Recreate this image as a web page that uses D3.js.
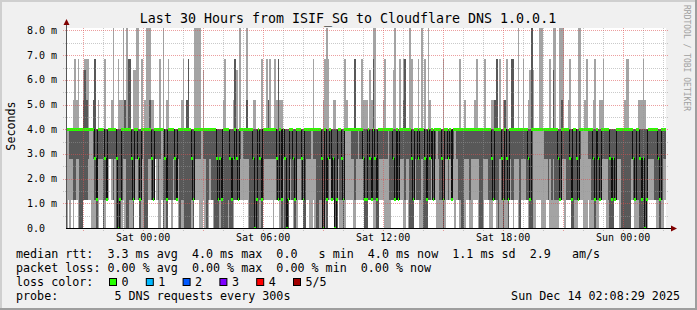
<!DOCTYPE html>
<meta charset="utf-8">
<style>
body { margin: 0; background: #f0f0f0; }
svg { display: block; }
text { font-family: "DejaVu Sans Mono", monospace; fill: #000; }
.title { font-size: 13.3px; }
.axis-label { font-size: 10px; }
.legend { font-size: 11.7px; white-space: pre; }
.credit { font-size: 8px; fill: #a0a0a0; }
</style>
<svg width="697" height="310"></svg>
<script src="https://d3js.org/d3.v7.min.js"></script>
<script>

// ping value levels seen in the graph (ms), keyed by the digit used below
var levels = { "0": 0.0, "1": 1.14, "2": 2.8, "3": 4.0, "4": 5.18, "5": 6.4, "6": 6.83, "9": 9.5 };

// one code per 300s step: sorted pings p1 p2 median p4 p5 (5 pings per step)
var pingBlocks = [
  "03333 13333 02333 12333 01334 11336 12334 02336 00333 00333 11345 11356 11346 12336 13333 03333 02344 01266 00133 02334 12333 12333 00333 01236 11133 12333 22333 12334 11339 02333 00233 00036 00134 01334 12339 02344 00339 00366 01366 01233 00135 12335 12339 11239 00133 02336 03333 00334 00339 12339 12349 11234 11134 22333 12333 01333 02336 13333 00339 01233",
  "00134 11336 11333 01333 12333 11233 11133 02333 00333 01334 01336 00333 00344 00366 00333 01233 00133 12339 12339 12339 02339 03333 12335 02333 00333 01333 12333 11333 01333 00333 00233 00133 01233 00133 00334 00336 00333 01333 00233 00133 01234 11366 11235 11133 12339 13333 12333 12333 12349 02333 00333 00333 00234 00034 00133 00333 01233 00136 11333 12333",
  "12336 12344 12336 12333 02333 12336 11234 11166 01334 00134 02333 00233 00033 00133 12333 11333 01233 00133 02333 12333 12333 11233 00133 00333 12333 12333 02333 03333 12336 02333 00333 00333 01333 01233 00034 01336 00139 11236 12333 11133 11234 00034 00133 12333 01333 01233 00133 03336 13334 13333 13333 12333 02333 01366 12333 13333 12333 12336 11234 00134",
  "00134 11333 11235 11134 01369 01239 00133 00333 12333 12333 12334 02336 02333 03333 01333 11333 11235 11139 12333 11133 12336 12333 02346 01366 12333 02333 00339 00236 00133 12333 11333 11236 01333 02339 00333 00236 00133 11339 11234 12333 11133 12333 03333 02333 01333 01233 00136 02333 12333 11233 12333 11133 12333 03333 12333 11333 01336 00333 00333 02334",
  "12333 12333 01333 02333 12333 12334 12336 02333 00333 00333 02333 12336 12333 11333 01333 01234 11134 11344 01366 00333 02336 01233 00134 01344 01236 00133 12333 11366 01366 12333 12333 02339 00333 12333 12336 12333 11333 01234 00135 00399 03335 03333 13333 13333 13339 03339 03333 02333 12333 11333 02336 01333 02359 01339 01333 01233 11139 12349 12339 02333",
  "11333 11334 11236 00133 00333 01333 01233 11139 12339 13333 03333 03334 03336 12333 02333 01333 01234 00136 01333 01233 11134 12334 12336 12333 02333 01333 00233 00133 00233 11133 12333 12333 02333 00333 00333 00334 00336 00336 00333 12333 11233 01133 01333 01334 00234 00134 00236 00034 01133 12333 12333 12333 12333 11333 01333 01233 00133 01333 02333 12333"
];

var yTicks = [0, 1, 2, 3, 4, 5, 6, 7, 8];
var yTickLabels = ["0.0", "1.0 m", "2.0 m", "3.0 m", "4.0 m", "5.0 m", "6.0 m", "7.0 m", "8.0 m"];

var lossColors = ["#26ff00", "#00b8ff", "#0059ff", "#7e00ff", "#ff0000", "#a10000"];
var lossLabels = ["0", "1", "2", "3", "4", "5/5"];

var legendLines = [
  "median rtt:  3.3 ms avg  4.0 ms max  0.0   s min  4.0 ms now  1.1 ms sd  2.9   am/s",
  "packet loss: 0.00 % avg  0.00 % max  0.00 % min  0.00 % now",
  "loss color:",
  "probe:        5 DNS requests every 300s"
];
var stamp = "Sun Dec 14 02:08:29 2025";
var title = "Last 30 Hours from ISIF_SG to Cloudflare DNS 1.0.0.1";

(function() {
  var svg = d3.select("svg"),
      width = +svg.attr("width"),
      height = +svg.attr("height");

  var stepMs = 300 * 1000,
      end = Date.UTC(2025, 11, 14, 2, 8, 29),
      start = end - 30 * 3600 * 1000;

  var pl = 66, pr = 666, pt = 28, pb = 228;

  var x = d3.scaleUtc().domain([start, end]).range([pl, pr]);
  var y = d3.scaleLinear().domain([0, 8.1]).range([pb, pt]);

  var steps = pingBlocks.join(" ").split(" ").map(function(code, i) {
    return { i: i, p: code.split("").map(c => levels[c]) };
  });
  var pts = steps.concat([{ i: steps.length, p: steps[steps.length - 1].p }]);
  var xs = d => x(start + d.i * stepMs);

  // frame
  svg.append("rect").attr("width", width).attr("height", height).attr("fill", "#f0f0f0");
  svg.append("path").attr("d", "M0,0H" + width + "M0,0V" + height)
      .attr("stroke", "#cfcfcf").attr("stroke-width", 4).attr("fill", "none");
  svg.append("path").attr("d", "M" + width + ",0V" + height + "H0")
      .attr("stroke", "#9e9e9e").attr("stroke-width", 4).attr("fill", "none");

  svg.append("rect").attr("x", pl).attr("y", pt)
      .attr("width", pr - pl).attr("height", pb - pt).attr("fill", "#fff");

  svg.append("clipPath").attr("id", "plot")
    .append("rect").attr("x", pl).attr("y", pt)
      .attr("width", pr - pl).attr("height", pb - pt);

  var g = svg.append("g").attr("clip-path", "url(#plot)").attr("shape-rendering", "crispEdges");

  // smoke: outer pair light, inner pair dark
  g.append("path").datum(pts)
      .attr("fill", "#a4a4a4")
      .attr("d", d3.area().curve(d3.curveStepAfter).x(xs)
        .y0(d => y(d.p[0])).y1(d => y(d.p[4])));
  g.append("path").datum(pts)
      .attr("fill", "#585858")
      .attr("d", d3.area().curve(d3.curveStepAfter).x(xs)
        .y0(d => y(d.p[1])).y1(d => y(d.p[3])));

  // median
  g.append("path").datum(pts)
      .attr("fill", "none").attr("stroke", "#111").attr("stroke-width", 1)
      .attr("d", d3.line().curve(d3.curveStepAfter).x(xs).y(d => y(d.p[2])));
  g.append("path").datum(pts)
      .attr("fill", lossColors[0])
      .attr("d", d3.area().curve(d3.curveStepAfter).x(xs)
        .y0(d => y(d.p[2]) + 1.5).y1(d => y(d.p[2]) - 1.5));

  // grid (drawn over the data like rrdtool)
  var grid = svg.append("g").attr("fill", "none").attr("stroke-dasharray", "1,1")
      .attr("shape-rendering", "crispEdges");

  d3.utcHour.every(1).range(new Date(start), new Date(end)).forEach(function(h) {
    var major = h.getUTCHours() % 3 === 0;
    var px = Math.round(x(h)) + 0.5;
    grid.append("line").attr("x1", px).attr("x2", px).attr("y1", pt).attr("y2", pb + 3)
        .attr("stroke", major ? "rgba(220,80,80,0.55)" : "rgba(150,150,150,0.5)");
  });
  d3.range(1, 17).map(k => k / 2).forEach(function(v) {
    var major = v % 1 === 0;
    var py = Math.round(y(v)) + 0.5;
    grid.append("line").attr("x1", pl - 3).attr("x2", pr + 2).attr("y1", py).attr("y2", py)
        .attr("stroke", major ? "rgba(220,80,80,0.55)" : "rgba(150,150,150,0.5)");
  });

  // axes
  svg.append("line").attr("x1", pl + 0.5).attr("x2", pl + 0.5).attr("y1", pb).attr("y2", 22)
      .attr("stroke", "#555");
  svg.append("line").attr("x1", pl).attr("x2", pr + 6).attr("y1", pb + 0.5).attr("y2", pb + 0.5)
      .attr("stroke", "#000");
  svg.append("path").attr("d", "M" + (pl - 2.5) + ",25L" + (pl + 0.5) + ",19L" + (pl + 3.5) + ",25Z")
      .attr("fill", "#7f0000");
  svg.append("path").attr("d", "M" + (pr + 5) + "," + (pb - 2.5) + "L" + (pr + 11) + "," + (pb + 0.5) +
      "L" + (pr + 5) + "," + (pb + 3.5) + "Z")
      .attr("fill", "#7f0000");

  // tick labels
  svg.selectAll("text.ylab").data(yTicks).join("text")
      .attr("class", "ylab axis-label")
      .attr("x", 27).attr("y", d => y(d) + 3.5)
      .text((d, i) => yTickLabels[i]);

  var fmt = d3.utcFormat("%a %H:%M");
  svg.selectAll("text.xlab").data(d3.utcHour.every(6).range(new Date(start), new Date(end))).join("text")
      .attr("class", "xlab axis-label")
      .attr("text-anchor", "middle")
      .attr("x", d => x(d)).attr("y", 241)
      .text(d => fmt(d));

  // titles
  svg.append("text").attr("class", "title").attr("text-anchor", "middle")
      .attr("x", 348).attr("y", 23).text(title);
  svg.append("text").attr("class", "legend").attr("text-anchor", "middle")
      .attr("transform", "translate(15,126) rotate(-90)").text("Seconds");
  svg.append("text").attr("class", "credit")
      .attr("transform", "translate(684,5) rotate(90)").text("RRDTOOL / TOBI OETIKER");

  // legend
  svg.selectAll("text.leg").data(legendLines).join("text")
      .attr("class", "leg legend")
      .attr("x", 16).attr("y", (d, i) => 258 + i * 14)
      .text(d => d);
  svg.append("text").attr("class", "legend").attr("text-anchor", "end")
      .attr("x", 680).attr("y", 300).text(stamp);

  var lc = svg.selectAll("g.lc").data(lossColors).join("g")
      .attr("class", "lc")
      .attr("transform", (d, i) => "translate(" + (109.5 + i * 36.8) + ",278.5)");
  lc.append("rect").attr("width", 7).attr("height", 7)
      .attr("fill", d => d).attr("stroke", "#000");
  lc.append("text").attr("class", "legend").attr("x", 12).attr("y", 7.5)
      .text((d, i) => lossLabels[i]);
})();

</script>
